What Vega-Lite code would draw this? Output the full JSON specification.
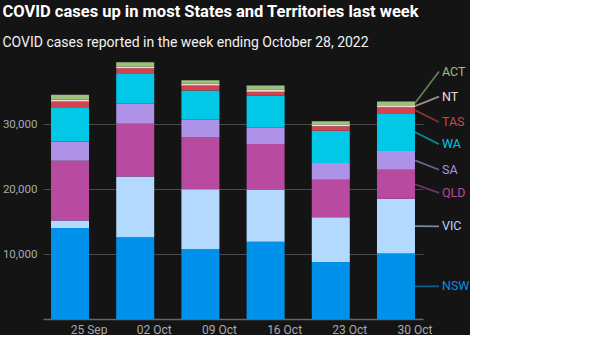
{
  "$schema": "https://vega.github.io/schema/vega-lite/v6.json",
  "width": 380,
  "height": 260,
  "padding": {"left": 2, "top": 3, "right": 0, "bottom": 0},
  "background": "#141414",
  "title": {
    "text": "COVID cases up in most States and Territories last week",
    "subtitle": "COVID cases reported in the week ending October 28, 2022",
    "anchor": "start",
    "frame": "bounds",
    "font": "Roboto",
    "fontSize": 16.5,
    "fontWeight": "bold",
    "color": "#ffffff",
    "subtitleFont": "Roboto",
    "subtitleFontSize": 14,
    "subtitleColor": "#f2f2f2",
    "subtitlePadding": 16,
    "offset": 9
  },
  "datasets": {
    "weeks": [
      {"week": "25 Sep", "NSW": 14010, "VIC": 1130, "QLD": 9220, "SA": 2960, "WA": 5130, "TAS": 1020, "NT": 260, "ACT": 770},
      {"week": "02 Oct", "NSW": 12570, "VIC": 9370, "QLD": 8090, "SA": 3070, "WA": 4610, "TAS": 870, "NT": 260, "ACT": 660},
      {"week": "09 Oct", "NSW": 10730, "VIC": 9220, "QLD": 7980, "SA": 2720, "WA": 4500, "TAS": 770, "NT": 260, "ACT": 560},
      {"week": "16 Oct", "NSW": 11900, "VIC": 7950, "QLD": 7060, "SA": 2510, "WA": 4910, "TAS": 620, "NT": 350, "ACT": 620},
      {"week": "23 Oct", "NSW": 8780, "VIC": 6860, "QLD": 5790, "SA": 2560, "WA": 4970, "TAS": 710, "NT": 260, "ACT": 510},
      {"week": "30 Oct", "NSW": 10060, "VIC": 8450, "QLD": 4450, "SA": 2870, "WA": 5840, "TAS": 920, "NT": 310, "ACT": 560}
    ],
    "labels": [
      {"state": "ACT", "ly": 38070},
      {"state": "NT", "ly": 34220},
      {"state": "TAS", "ly": 30260},
      {"state": "WA", "ly": 26910},
      {"state": "SA", "ly": 22960},
      {"state": "QLD", "ly": 19390},
      {"state": "VIC", "ly": 14255},
      {"state": "NSW", "ly": 5030}
    ]
  },
  "data": {"name": "weeks"},
  "transform": [
    {"fold": ["NSW", "VIC", "QLD", "SA", "WA", "TAS", "NT", "ACT"], "as": ["state", "cases"]},
    {"stack": "cases", "groupby": ["week"], "as": ["y0", "y1"]},
    {"calculate": "(datum.y0 + datum.y1) / 2", "as": "mid"},
    {"lookup": "state", "from": {"data": {"name": "labels"}, "key": "state", "fields": ["ly"]}}
  ],
  "encoding": {
    "x": {
      "field": "week", "type": "ordinal", "sort": null,
      "scale": {"domain": ["25 Sep", "02 Oct", "09 Oct", "16 Oct", "23 Oct", "30 Oct"], "paddingInner": 0.417, "paddingOuter": 0.123},
      "axis": {"labelAngle": 0, "labelOffset": 19, "ticks": false, "domainColor": "#666666", "domainWidth": 1.5, "labelPadding": 5, "labelColor": "#a9a9b3", "labelFontSize": 12, "grid": false}
    },
    "color": {
      "field": "state", "type": "nominal",
      "scale": {"domain": ["NSW", "VIC", "QLD", "SA", "WA", "TAS", "NT", "ACT"], "range": ["#0091EA", "#B3D9FF", "#B84A9F", "#AE92E8", "#00C8E6", "#D0434F", "#F0DCD4", "#9BC17E"]},
      "legend": null
    }
  },
  "layer": [
    {
      "mark": {"type": "bar"},
      "encoding": {
        "y": {
          "field": "y0", "type": "quantitative",
          "scale": {"domain": [0, 40000], "nice": false},
          "axis": {"values": [10000, 20000, 30000], "format": ",d", "labelColor": "#a9a9b3", "labelFontSize": 11.5, "gridColor": "#4a4a4a", "domain": false, "ticks": false, "labelPadding": 6}
        },
        "y2": {"field": "y1"}
      }
    },
    {
      "transform": [{"filter": "datum.week === '30 Oct'"}],
      "mark": {"type": "rule", "xOffset": 19, "x2Offset": 43, "strokeWidth": 1.8, "opacity": 0.6},
      "encoding": {
        "x2": {"field": "week"},
        "y": {"field": "mid", "type": "quantitative"},
        "y2": {"field": "ly"}
      }
    },
    {
      "transform": [{"filter": "datum.week === '30 Oct'"}],
      "mark": {"type": "text", "dx": 46, "align": "left", "baseline": "middle", "font": "Roboto", "fontSize": 12.5},
      "encoding": {
        "y": {"field": "ly", "type": "quantitative"},
        "text": {"field": "state"}
      }
    }
  ],
  "config": {
    "view": {"stroke": null},
    "axis": {"title": null, "labelFont": "Roboto", "labelFontSize": 12.5}
  }
}
